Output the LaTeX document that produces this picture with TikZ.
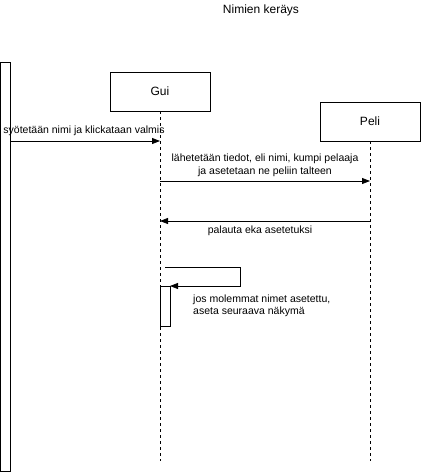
\documentclass[tikz,border=0pt]{standalone}
\usepackage{fontspec}
\setmainfont{Liberation Sans}
\usetikzlibrary{arrows.meta}
\begin{document}
\begin{tikzpicture}[x=1pt,y=-1pt,
  every node/.style={font=\fontsize{10.5}{12.5}\selectfont},
  actor/.style={draw,line width=0.8pt,minimum width=100pt,minimum height=39pt,inner sep=0pt,font=\fontsize{12}{14}\selectfont},
  life/.style={dashed,dash pattern=on 3pt off 3pt,line width=0.8pt},
  msg/.style={line width=0.8pt,-{Triangle[length=8pt,width=6pt]}},
  lbl/.style={inner sep=0pt,align=center}]
\useasboundingbox (0,0) rectangle (422,475);
\node[lbl,font=\fontsize{12}{14}\selectfont] (title) at (261,10) {Nimien keräys};
\node[draw,line width=0.8pt,minimum width=10pt,minimum height=409pt,inner sep=0pt,anchor=north west] (user) at (0,62) {};
\node[actor] (gui) at (160,91.5) {Gui};
\node[actor] (peli) at (370,121.5) {Peli};
\coordinate (guiend) at (160,461);
\coordinate (peliend) at (370,461);
\draw[life] (gui.south) -- (guiend);
\draw[life] (peli.south) -- (peliend);
% message 1
\coordinate (m1s) at (10,141);
\coordinate (m1e) at (160,141);
\draw[msg] (m1s) -- (m1e);
\node[lbl] (l1) at (84,131) {syötetään nimi ja klickataan valmis};
% message 2
\coordinate (m2s) at (160,181);
\coordinate (m2e) at (370,181);
\draw[msg] (m2s) -- (m2e);
\node[lbl] (l2) at (265,165.5) {lähetetään tiedot, eli nimi, kumpi pelaaja\\ja asetetaan ne peliin talteen};
% message 3
\coordinate (m3s) at (370,221);
\coordinate (m3e) at (160,221);
\draw[msg] (m3s) -- (m3e);
\node[lbl] (l3) at (260,231) {palauta eka asetetuksi};
% self message
\node[draw,line width=0.8pt,minimum width=10pt,minimum height=40pt,inner sep=0pt,anchor=north west] (act) at (160,286) {};
\coordinate (s1) at (165,267);
\coordinate (s2) at (240,267);
\coordinate (s3) at (240,286);
\coordinate (s4) at (170,286);
\draw[msg] (s1) -- (s2) -- (s3) -- (s4);
\node[lbl,align=left,anchor=west] (l4) at (193,306) {jos molemmat nimet asetettu,\\aseta seuraava näkymä};
\end{tikzpicture}
\end{document}
